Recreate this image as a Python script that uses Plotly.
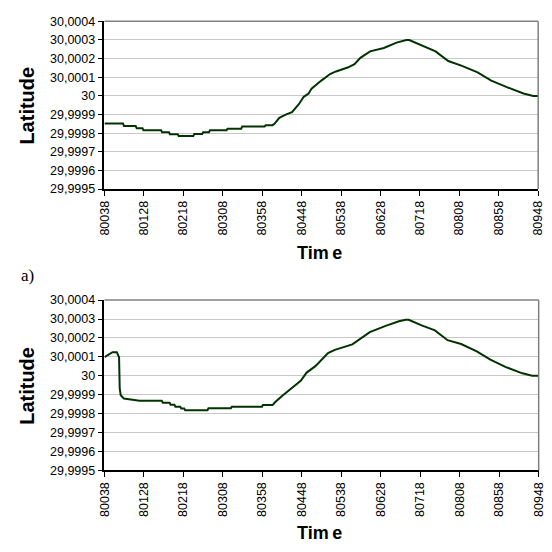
import plotly.graph_objects as go

# ---- data ----
tick_labels = ["80038", "80128", "80218", "80308", "80358", "80448",
               "80538", "80628", "80718", "80808", "80858", "80948"]
tick_seconds = [0, 50, 100, 150, 200, 250, 300, 350, 400, 450, 500, 550]

lat_ticks = [29.9995, 29.9996, 29.9997, 29.9998, 29.9999, 30.0,
             30.0001, 30.0002, 30.0003, 30.0004]
lat_tick_text = ["29,9995", "29,9996", "29,9997", "29,9998", "29,9999", "30",
                 "30,0001", "30,0002", "30,0003", "30,0004"]

# chart a) : seconds after 8:00:38, latitude
t_a = [0, 23.5, 24.8, 39.6, 40.9, 48.3, 49.5, 71.8, 73.1, 81.8, 83.0, 92.9,
       94.1, 112.7, 114.0, 123.9, 125.1, 132.5, 133.8, 154.8, 156.1, 173.4,
       174.7, 203.1, 204.4, 213.1, 215.6, 221.7, 229.9, 237.8, 246.5, 252.7,
       258.9, 262.6, 275.0, 286.1, 293.6, 308.4, 317.1, 324.5, 336.9, 354.3,
       370.4, 382.8, 386.5, 403.8, 419.9, 436.0, 453.4, 473.2, 490.5, 510.3,
       531.4, 543.8, 550]
lat_a = [29.999852, 29.999852, 29.999838, 29.999838, 29.999826, 29.999826,
         29.999815, 29.999815, 29.999805, 29.999805, 29.999794, 29.999794,
         29.999785, 29.999785, 29.999796, 29.999796, 29.999805, 29.999805,
         29.999815, 29.999815, 29.999824, 29.999824, 29.999836, 29.999836,
         29.999843, 29.999843, 29.999850, 29.999882, 29.999899, 29.999913,
         29.999955, 29.999995, 30.000013, 30.000039, 30.000082, 30.000117,
         30.000131, 30.000152, 30.000170, 30.000204, 30.000239, 30.000257,
         30.000286, 30.000300, 30.000300, 30.000269, 30.000239, 30.000187,
         30.000161, 30.000126, 30.000082, 30.000047, 30.000013, 30.000000,
         30.000000]

# chart b)
t_b = [0, 4.1, 8.2, 10.2, 15.6, 18.5, 19.3, 20.6, 24.6, 32.9, 44.3, 72.6,
       73.9, 82.5, 83.7, 88.6, 89.9, 96.0, 97.3, 101.0, 102.2, 130.5, 131.7,
       160.1, 161.3, 199.5, 200.7, 213.0, 216.7, 225.3, 237.6, 248.6, 256.1,
       267.2, 283.2, 291.8, 314.0, 323.8, 336.1, 357.0, 373.0, 381.6, 385.3,
       402.6, 418.6, 434.6, 451.8, 471.6, 488.8, 508.5, 529.4, 541.7, 550]
lat_b = [30.000099, 30.000108, 30.000120, 30.000125, 30.000125, 30.000098,
         29.999935, 29.999897, 29.999880, 29.999875, 29.999868, 29.999868,
         29.999858, 29.999858, 29.999847, 29.999847, 29.999837, 29.999837,
         29.999827, 29.999827, 29.999818, 29.999818, 29.999828, 29.999828,
         29.999837, 29.999837, 29.999846, 29.999846, 29.999863, 29.999895,
         29.999935, 29.999974, 30.000017, 30.000051, 30.000120, 30.000137,
         30.000166, 30.000197, 30.000231, 30.000265, 30.000288, 30.000296,
         30.000296, 30.000265, 30.000240, 30.000188, 30.000168, 30.000129,
         30.000085, 30.000046, 30.000013, 30.000000, 30.000000]

LINE = "#003300"
FONT = "Liberation Sans, Arial, sans-serif"

W = 552


def fx(px):
    return px / W


def fy(py):
    return 1 - py / W


fig = go.Figure()
fig.add_trace(go.Scatter(x=t_a, y=lat_a, mode="lines", xaxis="x", yaxis="y",
                         line=dict(color=LINE, width=2), showlegend=False))
fig.add_trace(go.Scatter(x=t_b, y=lat_b, mode="lines", xaxis="x2", yaxis="y2",
                         line=dict(color=LINE, width=2), showlegend=False))

xax = dict(range=[0, 550], tickmode="array", tickvals=tick_seconds,
           ticktext=tick_labels, tickangle=-90, ticks="outside", ticklen=5,
           tickcolor="black", showline=True, linecolor="black", linewidth=1.5,
           showgrid=False, zeroline=False, ticklabeloverflow="allow",
           tickfont=dict(family=FONT, size=12.5, color="black"))
yax = dict(range=[29.9995, 30.0004], tickmode="array", tickvals=lat_ticks,
           ticktext=lat_tick_text, ticks="outside", ticklen=5,
           tickcolor="black", showline=True, linecolor="black", linewidth=1.5,
           showgrid=True, gridcolor="#c8c8c8", gridwidth=1, zeroline=False,
           tickfont=dict(family=FONT, size=12.5, color="black"))

fig.update_layout(
    width=W, height=W, margin=dict(l=0, r=0, t=0, b=0),
    paper_bgcolor="white", plot_bgcolor="white",
    xaxis=dict(xax, domain=[fx(100), fx(545)], anchor="y"),
    yaxis=dict(yax, domain=[fy(186.8), fy(14.7)], anchor="x"),
    xaxis2=dict(xax, domain=[fx(100), fx(545.5)], anchor="y2"),
    yaxis2=dict(yax, domain=[fy(475.5), fy(300.7)], anchor="x2"),
)

# gray top/right frame of each plot area
for xr, yr in (("x", "y"), ("x2", "y2")):
    fig.add_shape(type="line", xref=f"{xr} domain", yref=f"{yr} domain",
                  x0=0, x1=1, y0=1, y1=1, line=dict(color="#808080", width=1.5))
    fig.add_shape(type="line", xref=f"{xr} domain", yref=f"{yr} domain",
                  x0=1, x1=1, y0=0, y1=1, line=dict(color="#808080", width=1.5))

for yc in (100.7, 388.2):
    fig.add_annotation(text="<b>Latitude</b>", xref="paper", yref="paper",
                       x=fx(21), y=fy(yc), textangle=-90, showarrow=False,
                       xanchor="center", yanchor="middle",
                       font=dict(family=FONT, size=20, color="black"))
for yc in (252.5, 540.0):
    fig.add_annotation(text="<b>Tim\u2009e</b>", xref="paper", yref="paper",
                       x=fx(321), y=fy(yc), showarrow=False,
                       xanchor="center", yanchor="middle",
                       font=dict(family=FONT, size=18, color="black"))
fig.add_annotation(text="a)", xref="paper", yref="paper", x=fx(12), y=fy(275),
                   showarrow=False, xanchor="left", yanchor="middle",
                   font=dict(family="Liberation Serif, Times New Roman, serif",
                             size=17, color="black"))

# remove the default 8px page margin so the figure fills the window exactly
fig.write_html("out.html", config={"displayModeBar": False},
               post_script="document.body.style.margin='0';"
                           "document.body.style.overflow='hidden';")
